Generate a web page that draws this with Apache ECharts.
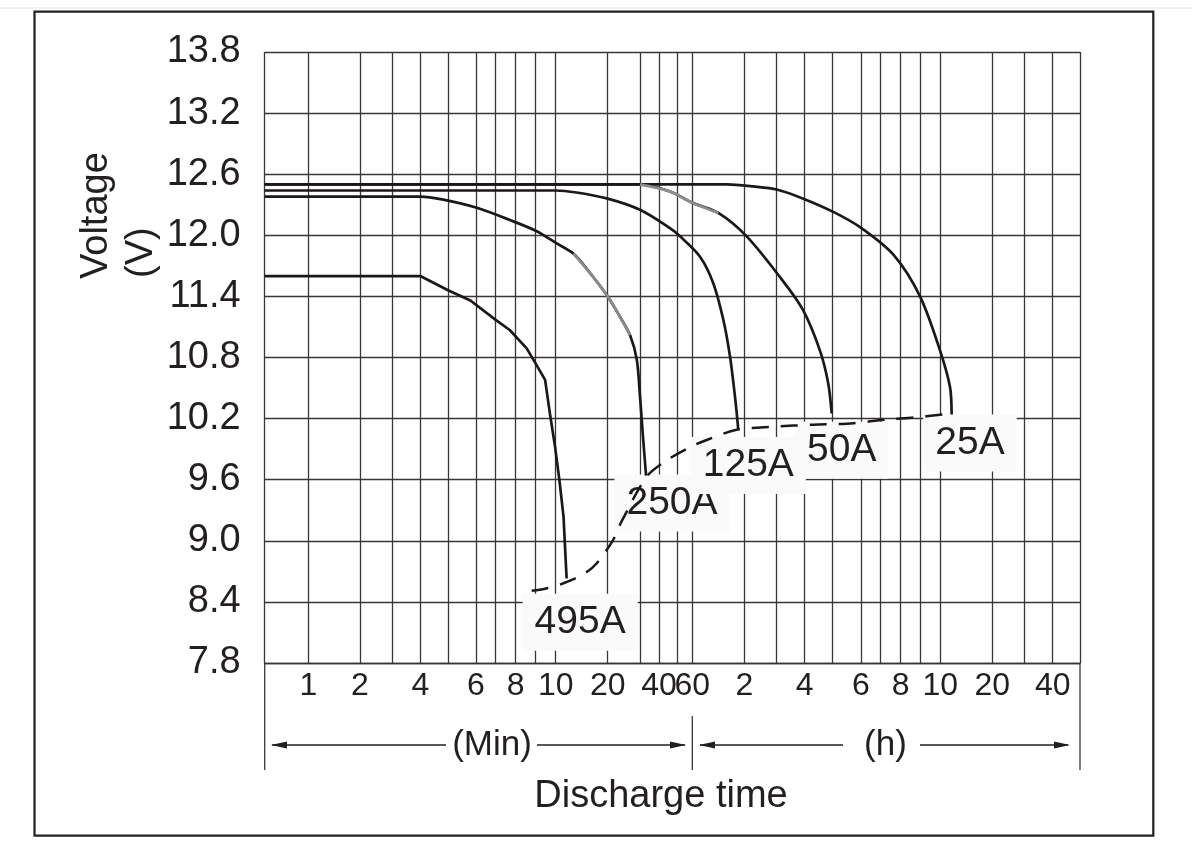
<!DOCTYPE html>
<html><head><meta charset="utf-8">
<script src="https://cdn.jsdelivr.net/npm/echarts@6/dist/echarts.min.js"></script>
<style>html,body{margin:0;padding:0;background:#fff}#c{width:1192px;height:852px}</style>
</head><body><div id="c"></div>
<script>
// ---- x scale definition: gridline times (minutes) and their relative spacing on the printed scale
const X_GRID_MIN = [0, 1, 2, 3, 4, 5, 6, 7, 8, 9, 10, 20, 30, 40, 50, 60, 120, 180, 240, 300, 360, 420, 480, 540, 600, 1200, 1800, 2400, 3000];
const X_GRID_POS = [0, 43.6, 95.3, 127.6, 155.6, 183.3, 211.3, 231, 251, 271, 291, 343, 375.3, 394.3, 412.6, 427.6, 479.6, 512, 540, 567.6, 596.3, 616, 636, 656, 675.6, 727.6, 759.3, 788, 815.3];
// ---- tick labels (minutes part, then hours part)
const X_LABEL_MIN = [1, 2, 4, 6, 8, 10, 20, 40, 60, 120, 240, 360, 480, 600, 1200, 2400];
const X_LABEL_TEXT = ['1', '2', '4', '6', '8', '10', '20', '40', '60', '2', '4', '6', '8', '10', '20', '40'];
const Y_MIN = 7.8, Y_MAX = 13.8, Y_STEP = 0.6;

// ---- discharge curves: [time in minutes, voltage]
const curve495A = [[0, 11.6], [4, 11.6], [5, 11.46], [5.8, 11.36], [7, 11.17], [7.7, 11.07], [8.55, 10.89], [9, 10.74], [9.47, 10.58], [9.71, 10.25], [9.97, 9.92], [10.7, 9.6], [11.5, 9.24], [12.1, 8.63]];
const curve250A = [[0, 12.38], [4, 12.38], [4.83, 12.35], [6.04, 12.27], [7.71, 12.15], [9.05, 12.04], [10.19, 11.92], [13.4, 11.82], [16.6, 11.63], [20, 11.4], [23.8, 11.2], [26.9, 11.02], [29, 10.78], [30, 10.42], [31.7, 9.99], [33.2, 9.64]];
const curve125A = [[0, 12.44], [10, 12.44], [14, 12.42], [20, 12.36], [30, 12.25], [46, 12.07], [51.8, 11.99], [68.9, 11.79], [84.2, 11.53], [95.8, 11.17], [103.5, 10.81], [109.2, 10.42], [113.1, 10.09]];
const curve50A = [[0, 12.5], [30, 12.5], [46, 12.43], [60, 12.32], [90, 12.22], [124.4, 11.99], [187, 11.59], [236, 11.27], [273, 10.87], [291, 10.55], [298.7, 10.25]];
const curve25A = [[0, 12.5], [100, 12.5], [136.7, 12.48], [180, 12.45], [237, 12.36], [302, 12.23], [358, 12.08], [458, 11.81], [538, 11.4], [599, 10.87], [712, 10.51], [731, 10.24]];
// end-of-discharge (cut-off) dashed line
const cutoffLine = [[8.8, 8.51], [9.47, 8.53], [10.83, 8.57], [15.3, 8.67], [17.9, 8.78], [21.7, 9.01], [24.3, 9.19], [33.5, 9.63], [44.2, 9.79], [58.5, 9.92], [76.6, 9.99], [111.2, 10.09], [173.7, 10.12], [258.7, 10.14], [330, 10.15], [438, 10.19], [518, 10.21], [631, 10.24]];
// curve names and where their labels sit [minutes, volts]
const CURVE_NAMES = ['495A', '250A', '125A', '50A', '25A'];
const LABEL_MIN = [14.7, 47.1, 127.4, 319.7, 942.6];
const LABEL_V = [8.2, 9.37, 9.74, 9.89, 9.96];
// faded (grey) stretches of two curves, in minutes
const GRAY_RANGE_250A = [13.4, 26.9];
const GRAY_RANGE_50A = [30, 90];

function toAxis(t) {
  const n = X_GRID_MIN.length;
  for (let i = 0; i < n - 1; i++) {
    const a = X_GRID_MIN[i], b = X_GRID_MIN[i + 1];
    if (t <= b || i === n - 2) {
      return X_GRID_POS[i] + (t - a) / (b - a) * (X_GRID_POS[i + 1] - X_GRID_POS[i]);
    }
  }
}
const mapPts = arr => arr.map(p => [toAxis(p[0]), p[1]]);
const inRange = (arr, r) => arr.filter(p => p[0] >= r[0] - 1e-9 && p[0] <= r[1] + 1e-9);

const INK = '#231f20';
const GRIDC = '#3b3535';
const FONT = '"Liberation Sans", Arial, Helvetica, sans-serif';
const GL = 264.7, GT = 52, GW = X_GRID_POS[X_GRID_POS.length - 1], GH = 611;
const GB = GT + GH, GR = GL + GW;

const curves = [curve495A, curve250A, curve125A, curve50A, curve25A];
const series = curves.map((c, i) => ({
  type: 'line', name: CURVE_NAMES[i], data: mapPts(c), showSymbol: false, silent: true, z: 3,
  smooth: i === 0 ? false : 0.3,
  lineStyle: { color: '#1c1818', width: 2.7 }
}));
series.push({
  type: 'line', data: mapPts(inRange(curve250A, GRAY_RANGE_250A)), showSymbol: false, silent: true, z: 4,
  smooth: 0.3, lineStyle: { color: '#8c8c8c', width: 2.7 }
});
series.push({
  type: 'line', data: mapPts(inRange(curve50A, GRAY_RANGE_50A)), showSymbol: false, silent: true, z: 4,
  smooth: 0.3, lineStyle: { color: '#8c8c8c', width: 2.7 }
});
series.push({
  type: 'line', data: mapPts(cutoffLine), showSymbol: false, silent: true, z: 3, smooth: 0.3,
  lineStyle: { color: '#1c1818', width: 2.5, type: [17, 12] }
});
series.push({
  type: 'scatter', silent: true, z: 1, symbolSize: 1, itemStyle: { color: 'rgba(0,0,0,0)', opacity: 1 },
  data: LABEL_MIN.map((t, i) => [toAxis(t), LABEL_V[i]]),
  label: {
    show: true, position: 'inside', formatter: p => CURVE_NAMES[p.dataIndex], opacity: 1,
    fontSize: 39, fontFamily: FONT, color: INK, backgroundColor: '#fafafa', padding: [9, 12, 9, 12]
  }
});

const txt = (x, y, text, size, align, extra) => Object.assign({
  type: 'text', x: x, y: y, silent: true, z: 10,
  style: {
    text: text, fill: INK, font: size + 'px ' + FONT,
    textAlign: align || 'center', textVerticalAlign: 'middle', align: align || 'center', verticalAlign: 'middle'
  }
}, extra || {});
const ln = (x1, y1, x2, y2, w, c) => ({ type: 'line', silent: true, z: 10, shape: { x1, y1, x2, y2 }, style: { stroke: c || INK, lineWidth: w || 1.3 } });
const head = (x, y, dir) => ({ type: 'polygon', silent: true, z: 10, shape: { points: [[x, y], [x - dir * 16, y - 3.5], [x - dir * 16, y + 3.5]] }, style: { fill: INK } });

const xMid = GL + toAxis(60);
const AY = 745;
const graphic = [
  ln(0, 8, 1192, 8, 1, '#e4e4e4'),
  { type: 'rect', silent: true, z: 10, shape: { x: 34.5, y: 11.7, width: 1118.8, height: 824 }, style: { fill: 'none', stroke: INK, lineWidth: 2.2 } },
  ln(GL, GB, GL, 770, 1.3, GRIDC),
  ln(GR, GB, GR, 770, 1.3, GRIDC),
  ln(xMid, 716, xMid, 770, 1.3, GRIDC),
  ln(272, AY, 446, AY), ln(537, AY, 685, AY), head(271, AY, -1), head(686, AY, 1),
  ln(700, AY, 843, AY), ln(920, AY, 1068, AY), head(699, AY, -1), head(1070, AY, 1),
  txt(492, AY, '(Min)', 35),
  txt(885.5, AY, '(h)', 35),
  txt(661, 797, 'Discharge time', 38),
  txt(97, 279, 'Voltage', 38, 'left', { rotation: Math.PI / 2 }),
  txt(142, 278, '(V)', 38, 'left', { rotation: Math.PI / 2 })
];

const chart = echarts.init(document.getElementById('c'), null, { renderer: 'canvas' });
chart.setOption({
  animation: false,
  backgroundColor: '#ffffff',
  grid: { left: GL, top: GT, width: GW, height: GH, containLabel: false },
  xAxis: {
    type: 'value', min: 0, max: GW,
    axisLine: { show: true, onZero: false, lineStyle: { color: GRIDC, width: 1.3 } },
    axisTick: { show: false, customValues: X_GRID_MIN.map(toAxis) },
    axisLabel: {
      customValues: X_LABEL_MIN.map(toAxis), margin: 7, fontSize: 32, fontFamily: FONT, color: INK,
      formatter: v => { const i = X_LABEL_MIN.findIndex(m => Math.abs(toAxis(m) - v) < 0.01); return i >= 0 ? X_LABEL_TEXT[i] : ''; }
    },
    splitLine: { show: true, lineStyle: { color: GRIDC, width: 1.3 } }
  },
  yAxis: {
    type: 'value', min: Y_MIN, max: Y_MAX, interval: Y_STEP,
    axisLine: { show: false }, axisTick: { show: false },
    axisLabel: { margin: 24, fontSize: 38, fontFamily: FONT, color: INK, formatter: v => v.toFixed(1) },
    splitLine: { show: true, lineStyle: { color: GRIDC, width: 1.3 } }
  },
  graphic: graphic,
  series: series
});
</script></body></html>
